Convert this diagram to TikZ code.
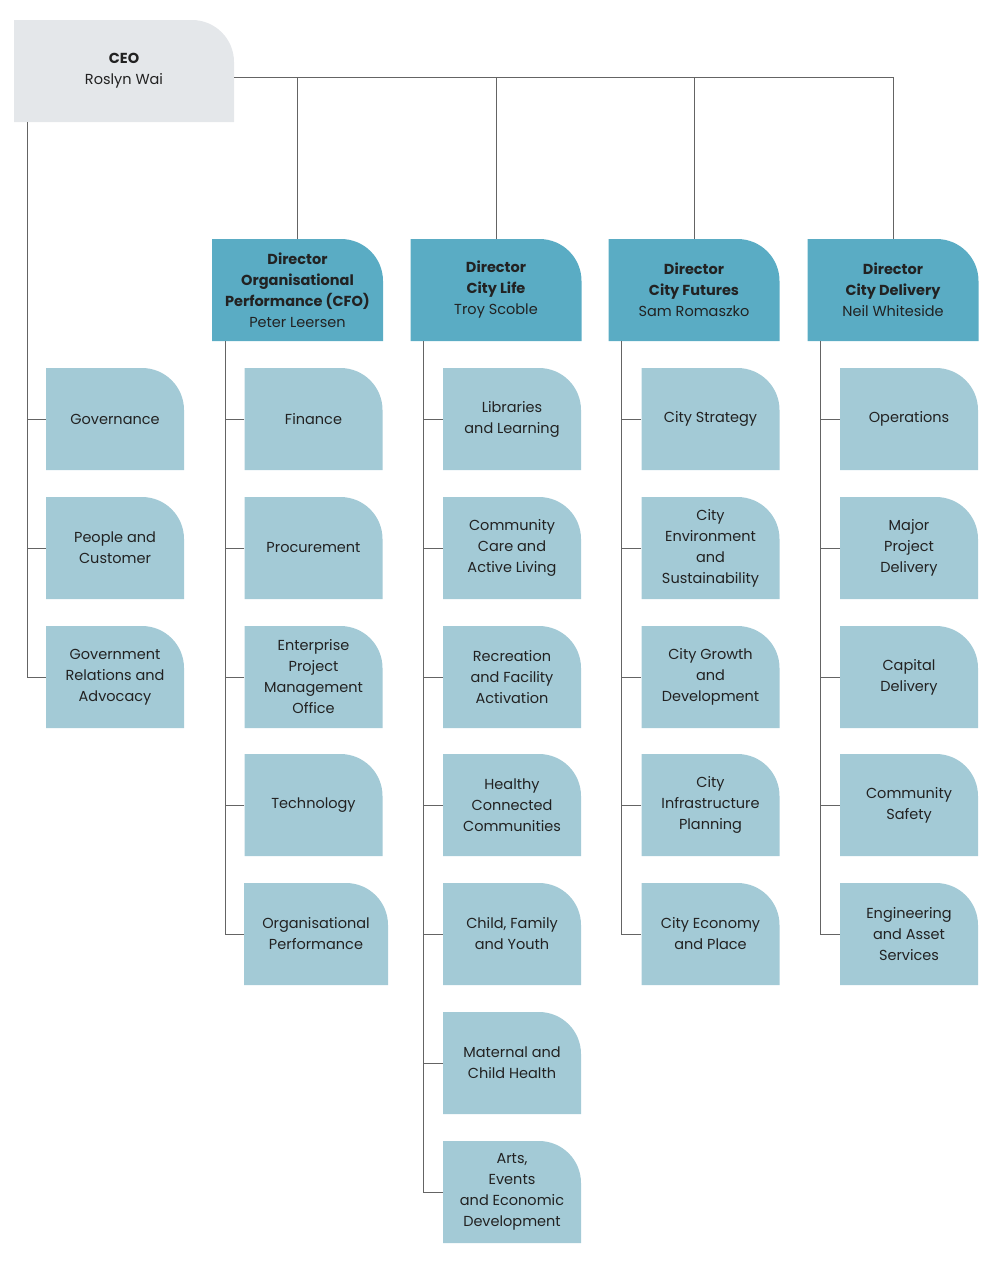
\documentclass[tikz,border=0pt]{standalone}
\usepackage{fontspec}
\setmainfont{Poppins}
\usepackage{xcolor}
\usetikzlibrary{positioning}
\definecolor{ceogray}{HTML}{E4E7EA}
\definecolor{dirblue}{HTML}{5AACC4}
\definecolor{unitblue}{HTML}{A3CAD6}
\definecolor{inkdark}{HTML}{222222}
\tikzset{
  tab/.style={rectangle, inner sep=0pt, text centered, align=center, text=inkdark,
    font=\fontsize{14.5}{21}\selectfont,
    path picture={\fill[#1] (path picture bounding box.south west) -- (path picture bounding box.north west)
      [rounded corners=42pt] -- (path picture bounding box.north east) [sharp corners] -- (path picture bounding box.south east) -- cycle;}},
  ceobox/.style={tab=ceogray, minimum width=220pt, minimum height=102pt},
  dirbox/.style={tab=dirblue, minimum width=171pt, minimum height=102pt},
  unitbox/.style={tab=unitblue, minimum width=138pt, minimum height=102pt},
  link/.style={draw=inkdark!70, line width=0.6pt}
}
\begin{document}
\begin{tikzpicture}[x=1pt, y=-1pt]
    \useasboundingbox (0,0) rectangle (995,1261);
    \node (ceo) [ceobox] at (124,71) {\textbf{CEO}\\Roslyn Wai};

    \node (d1) [dirbox] at (297.5,290) {\textbf{Director}\\\textbf{Organisational}\\\textbf{Performance (CFO)}\\Peter Leersen};
    \node (d2) [dirbox] at (496,290) {\textbf{Director}\\\textbf{City Life}\\Troy Scoble};
    \node (d3) [dirbox] at (694,290) {\textbf{Director}\\\textbf{City Futures}\\Sam Romaszko};
    \node (d4) [dirbox] at (893,290) {\textbf{Director}\\\textbf{City Delivery}\\Neil Whiteside};

    % CEO office
    \node (u01) [unitbox] at (115,419) {Governance};
    \node (u02) [unitbox] at (115,548) {People and\\Customer};
    \node (u03) [unitbox] at (115,677) {Government\\Relations and\\Advocacy};

    % Organisational Performance
    \node (u11) [unitbox] at (313.5,419) {Finance};
    \node (u12) [unitbox] at (313.5,548) {Procurement};
    \node (u13) [unitbox] at (313.5,677) {Enterprise\\Project\\Management\\Office};
    \node (u14) [unitbox] at (313.5,805) {Technology};
    \node (u15) [unitbox, minimum width=144pt] at (316,934) {Organisational\\Performance};

    % City Life
    \node (u21) [unitbox] at (512,419) {Libraries\\and Learning};
    \node (u22) [unitbox] at (512,548) {Community\\Care and\\Active Living};
    \node (u23) [unitbox] at (512,677) {Recreation\\and Facility\\Activation};
    \node (u24) [unitbox] at (512,805) {Healthy\\Connected\\Communities};
    \node (u25) [unitbox] at (512,934) {Child, Family\\and Youth};
    \node (u26) [unitbox] at (512,1063) {Maternal and\\Child Health};
    \node (u27) [unitbox] at (512,1192) {Arts,\\Events\\and Economic\\Development};

    % City Futures
    \node (u31) [unitbox] at (710.5,419) {City Strategy};
    \node (u32) [unitbox] at (710.5,548) {City\\Environment\\and\\Sustainability};
    \node (u33) [unitbox] at (710.5,677) {City Growth\\and\\Development};
    \node (u34) [unitbox] at (710.5,805) {City\\Infrastructure\\Planning};
    \node (u35) [unitbox] at (710.5,934) {City Economy\\and Place};

    % City Delivery
    \node (u41) [unitbox] at (909,419) {Operations};
    \node (u42) [unitbox] at (909,548) {Major\\Project\\Delivery};
    \node (u43) [unitbox] at (909,677) {Capital\\Delivery};
    \node (u44) [unitbox] at (909,805) {Community\\Safety};
    \node (u45) [unitbox] at (909,934) {Engineering\\and Asset\\Services};

    \coordinate (bus) at (0,77);
    \coordinate (spine0) at (27,0);
    \draw [link] (ceo.east |- bus) -| (d4.north);
    \foreach \d in {d1,d2,d3}
        \draw [link] (\d.north) -- (\d.north |- bus);

    \draw [link] (ceo.south -| spine0) |- (u03.west);
    \foreach \u in {u01,u02}
        \draw [link] (\u.west) -- (\u.west -| spine0);

    \foreach \d/\last/\units in {d1/u15/{u11,u12,u13,u14}, d2/u27/{u21,u22,u23,u24,u25,u26}, d3/u35/{u31,u32,u33,u34}, d4/u45/{u41,u42,u43,u44}} {
        \coordinate (spine) at ([xshift=13pt]\d.south west);
        \draw [link] (spine) |- (\last.west);
        \foreach \u in \units
            \draw [link] (\u.west) -- (\u.west -| spine);
    }
\end{tikzpicture}
\end{document}
